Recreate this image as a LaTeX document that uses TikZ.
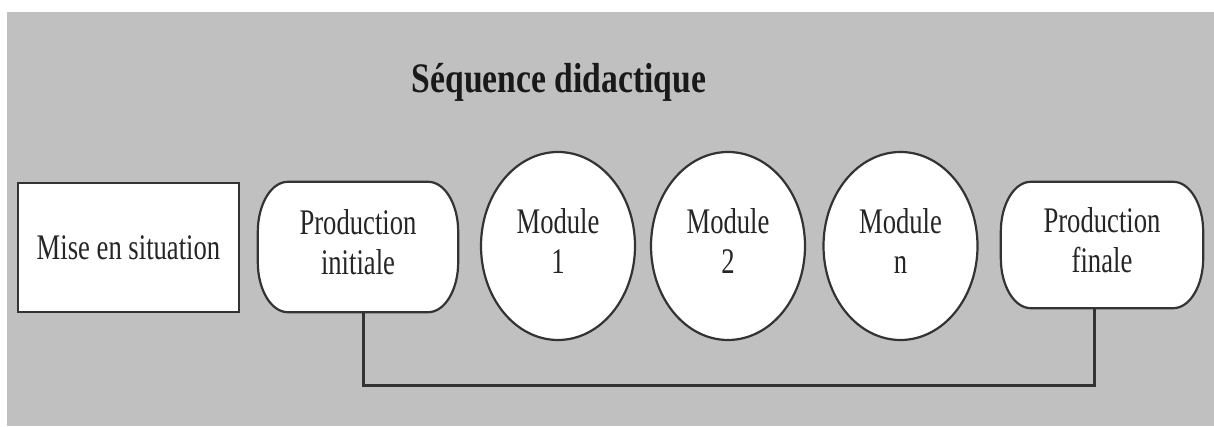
\documentclass[tikz,border=0pt]{standalone}
\usepackage{fontspec}
\setmainfont{Liberation Serif}
\usetikzlibrary{shapes.geometric,backgrounds,calc}
\newcommand\twolines[2]{\scalebox{0.74}[1]{\begin{tabular}{@{}c@{}}#1\\#2\end{tabular}}}
\newcommand\pillpath[3]{%
  \draw[pillshape] ($(#1.north west)+(#2,0)$) -- ($(#1.north east)+(-#2,0)$)
    arc[start angle=90,end angle=0,x radius=#2,y radius=#3]
    -- ($(#1.south east)+(0,#3)$)
    arc[start angle=0,end angle=-90,x radius=#2,y radius=#3]
    -- ($(#1.south west)+(#2,0)$)
    arc[start angle=270,end angle=180,x radius=#2,y radius=#3]
    -- ($(#1.north west)+(0,-#3)$)
    arc[start angle=180,end angle=90,x radius=#2,y radius=#3] -- cycle;}
\tikzset{
  lbl/.style={font=\fontsize{36}{40}\selectfont, text=black!85, inner sep=0pt},
  titlelbl/.style={font=\bfseries\fontsize{42}{46}\selectfont, text=black!90, inner sep=0pt},
  boxnode/.style={lbl, rectangle, draw=black!80, fill=white, line width=2.2pt, minimum width=221pt, minimum height=129pt},
  pillnode/.style={lbl, rectangle, minimum width=200pt, minimum height=130pt},
  modnode/.style={lbl, ellipse, draw=black!80, fill=white, line width=2.2pt, minimum width=154pt, minimum height=188pt},
  pillshape/.style={draw=black!80, fill=white, line width=2.2pt},
  link/.style={draw=black!80, line width=3pt},
}
\begin{document}
\begin{tikzpicture}[x=1pt,y=1pt]
\useasboundingbox (0,0) rectangle (1214,427);
\node[titlelbl, anchor=base] (title) at (559,334) {\scalebox{0.8}[1]{Séquence didactique}};
\node[boxnode] (mise) at (128.5,179.5) {\scalebox{0.74}[1]{Mise en situation}};
\node[pillnode] (pi) at (358,180) {\twolines{Production}{initiale}};
\node[modnode] (m1) at (558,181) {\twolines{Module}{1}};
\node[modnode] (m2) at (728,181) {\twolines{Module}{2}};
\node[modnode] (mn) at (900.5,181) {\twolines{Module}{n}};
\node[pillnode, minimum width=202pt, minimum height=126pt] (pf) at (1102,182) {\twolines{Production}{finale}};
\coordinate (lowline) at (0,41);
\draw[link] ([xshift=5pt]pi.south) -- ([xshift=5pt]pi.south |- lowline) -| ([xshift=-8pt]pf.south);
\begin{scope}[on background layer]
  \fill[white] (0,0) rectangle (1214,427);
  \fill[gray!50!white, fill={rgb,255:red,192;green,192;blue,192}] (7,1) rectangle (1214,415);
  \pillpath{pi}{30pt}{50pt}
  \pillpath{pf}{30pt}{50pt}
\end{scope}
\end{tikzpicture}
\end{document}
